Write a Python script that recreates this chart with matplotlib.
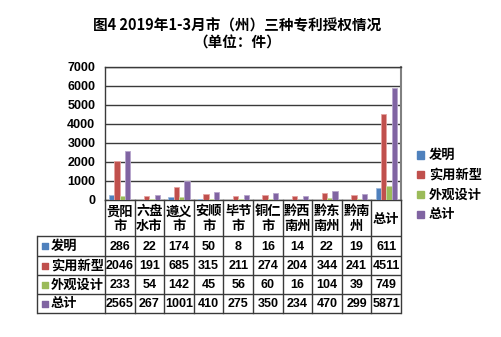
import matplotlib

matplotlib.use("Agg")
import matplotlib.pyplot as plt
import numpy as np

plt.rcParams["font.family"] = ["Noto Sans CJK SC", "DejaVu Sans"]

cities = ["贵阳\n市", "六盘\n水市", "遵义\n市", "安顺\n市", "毕节\n市",
          "铜仁\n市", "黔西\n南州", "黔东\n南州", "黔南\n州", "总计"]
series = ["发明", "实用新型", "外观设计", "总计"]
invention = [286, 22, 174, 50, 8, 16, 14, 22, 19, 611]
utility = [2046, 191, 685, 315, 211, 274, 204, 344, 241, 4511]
design = [233, 54, 142, 45, 56, 60, 16, 104, 39, 749]
total = [2565, 267, 1001, 410, 275, 350, 234, 470, 299, 5871]
colors = ["#4F81BD", "#C0504D", "#9BBB59", "#8064A2"]
edges = ["#9DB9DC", "#E5A3A1", "#C9DBA6", "#B6A5CC"]
yticks = [0, 1000, 2000, 3000, 4000, 5000, 6000, 7000]

W, H = 502, 337
fig = plt.figure(figsize=(W / 100, H / 100), dpi=100)


def box(l, t, r, b):
    return [l / W, 1 - b / H, (r - l) / W, (b - t) / H]


NUM = ["Liberation Sans", "DejaVu Sans"]
GRID = "#3a3a3a"

# 柱状图区域
ax = fig.add_axes(box(105, 67, 401, 200))
data = [invention, utility, design, total]
x = np.arange(len(cities))
bw = 0.18
for k, vals in enumerate(data):
    ax.bar(x + (k - 1.5) * bw, vals, width=bw, color=colors[k],
           edgecolor=edges[k], linewidth=0.6, zorder=3)
ax.set_xlim(-0.5, len(cities) - 0.5)
ax.set_ylim(0, 7000)
ax.set_yticks(yticks)
ax.set_yticklabels([str(v) for v in yticks], family=NUM,
                   fontweight="bold", fontsize=9)
ax.set_xticks([])
ax.tick_params(axis="y", length=0, pad=7)
ax.grid(axis="y", color=GRID, linewidth=1.0, zorder=1)
for s in ax.spines.values():
    s.set_color(GRID)
    s.set_linewidth(1.0)
ax.spines["right"].set_color("#808080")
ax.spines["right"].set_linewidth(1.5)

# 数据表
tab = fig.add_axes(box(37, 200, 401, 313))
unit = (401 - 105) / len(cities)
left = -0.5 - (105 - 37) / unit
tab.set_xlim(left, len(cities) - 0.5)
tab.set_ylim(113, 0)
tab.axis("off")
rows_y = [36, 56, 75, 94, 113]
for yy in rows_y:
    tab.plot([left, len(cities) - 0.5], [yy, yy], color=GRID, lw=1.0,
             clip_on=False, solid_capstyle="butt")
tab.plot([left, left], [36, 113], color=GRID, lw=1.0, clip_on=False)
for i in range(len(cities) + 1):
    tab.plot([i - 0.5, i - 0.5], [0, 113], color=GRID, lw=1.0, clip_on=False)

for i, name in enumerate(cities):
    tab.text(i, 18.5, name, ha="center", va="center", fontsize=9.5,
             fontweight="bold", linespacing=1.05)

for r, (label, vals) in enumerate(zip(series, data)):
    yc = (rows_y[r] + rows_y[r + 1]) / 2
    tab.scatter([left + 8 / unit], [yc], marker="s", s=18,
                color=colors[r], clip_on=False)
    tab.text(left + 14 / unit, yc, label, ha="left", va="center",
             fontsize=9.5, fontweight="bold")
    for i, v in enumerate(vals):
        tab.text(i, yc + 0.5, str(v), ha="center", va="center",
                 family=NUM, fontsize=9, fontweight="bold")

# 图例
for k, label in enumerate(series):
    yy = 155 + k * 19.7
    fig.patches.append(plt.Rectangle(((417) / W, 1 - (yy + 3.5) / H),
                                     7 / W, 7 / H, color=colors[k],
                                     transform=fig.transFigure))
    fig.text(429 / W, 1 - yy / H, label, ha="left", va="center",
             fontsize=9.5, fontweight="bold")

fig.text(237 / W, 1 - 25 / H, "图4 2019年1-3月市（州）三种专利授权情况",
         ha="center", va="center", fontsize=10.5, fontweight="bold")
fig.text(237 / W, 1 - 43 / H, "（单位：件）",
         ha="center", va="center", fontsize=10.5, fontweight="bold")

fig.savefig("out.png", dpi=100)
